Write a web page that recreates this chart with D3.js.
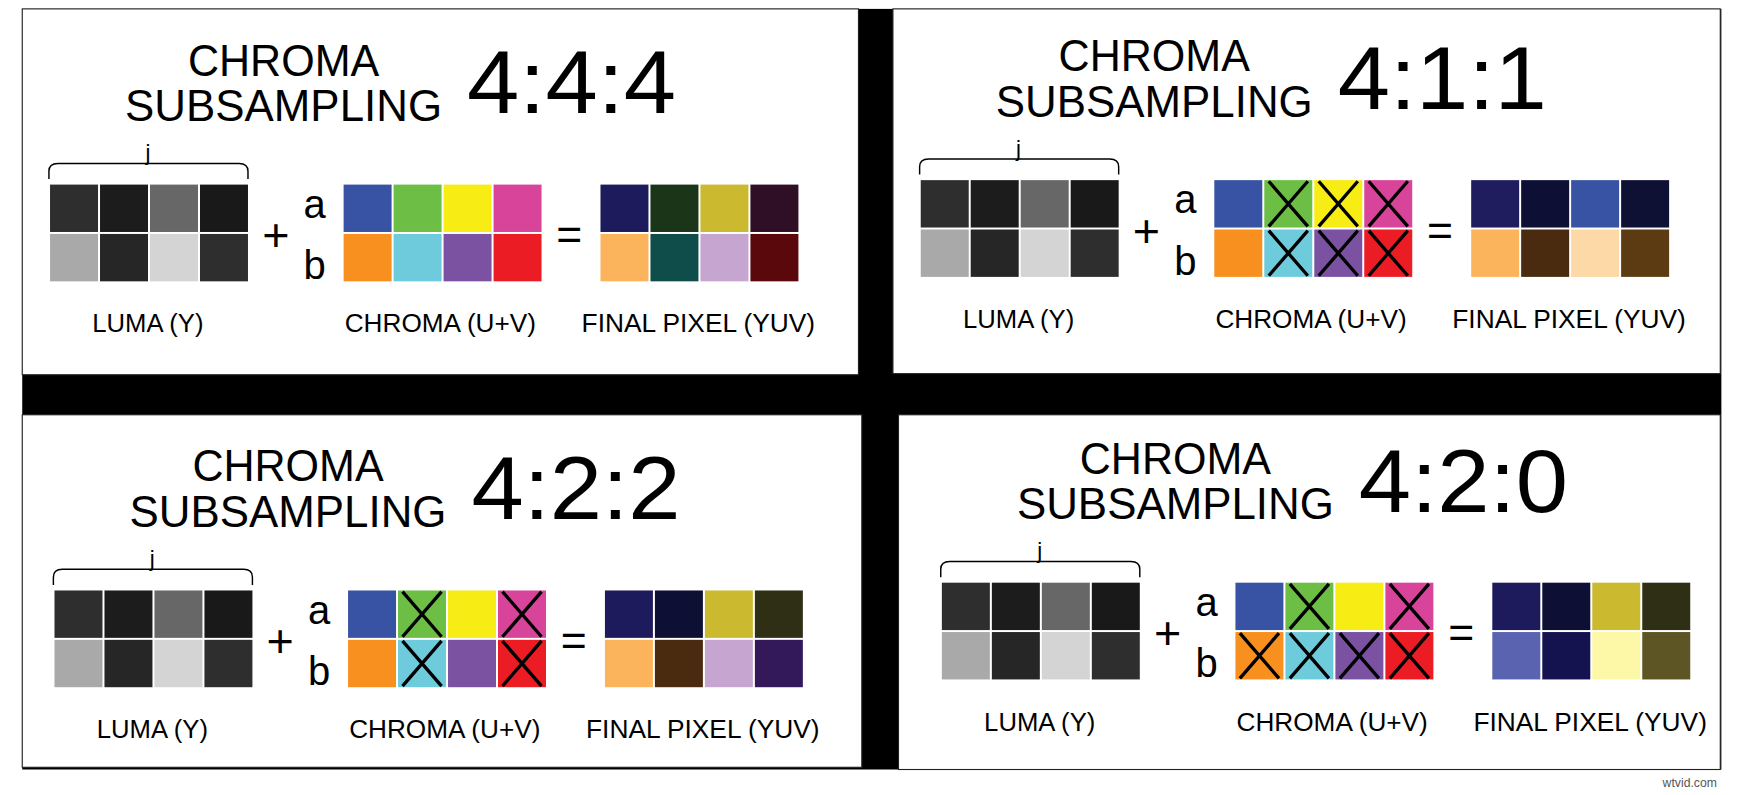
<!DOCTYPE html>
<html><head><meta charset="utf-8">
<script src="https://cdn.jsdelivr.net/npm/d3@7"></script>
<style>body{margin:0;background:#fff}svg{display:block}</style>
</head><body>
<script>
const ratios = ["4:4:4", "4:1:1", "4:2:2", "4:2:0"];
const lumaColors = [["#2e2e2e","#1c1c1c","#676767","#191919"],["#a9a9a9","#262626","#d4d4d4","#2e2e2e"]];
const chromaColors = [["#3953a4","#6cbe45","#f7ec13","#d8449a"],["#f7901e","#6dcbdb","#7a52a1","#ec1c24"]];
const finalColors = [
  [["#1e1b5c","#1b3518","#cbb92f","#2f0f26"],["#fbb45c","#0f4d4a","#c6a6d0","#5a080c"]],
  [["#201d5e","#0d0f35","#3953a4","#0e1034"],["#fbb45c","#4a2b10","#fdd9a7","#5c3a12"]],
  [["#1e1b5c","#0d0f35","#cbb92f","#2f2f16"],["#fbb45c","#4a2b10","#c6a6d0","#33195a"]],
  [["#1e1b5c","#0d0f35","#cbb92f","#2f2f16"],["#5a63b0","#15134f","#fdf7a8","#5d5524"]]
];
const crossed = [
  [],
  [[0,1],[0,2],[0,3],[1,1],[1,2],[1,3]],
  [[0,1],[0,3],[1,1],[1,3]],
  [[0,1],[0,3],[1,0],[1,1],[1,2],[1,3]]
];
const labels = ["LUMA (Y)", "CHROMA (U+V)", "FINAL PIXEL (YUV)"];
const labelWidths = [100, 172, 210];

const s = 1.112;
const panels = [
  {x:20,y:8,w:752,h:329,dx:0,dy:0},
  {x:803,y:8,w:744,h:328,dx:0,dy:-4},
  {x:20,y:373,w:755,h:317,dx:4,dy:0},
  {x:808,y:373,w:739,h:319,dx:14,dy:-7}
];

const svg = d3.select("body").append("svg").attr("width",1746).attr("height",795);
const root = svg.append("g").attr("transform",`scale(${s})`);
root.append("rect").attr("x",20).attr("y",8).attr("width",1528).attr("height",684).attr("fill","#000");

const font = "'Liberation Sans',Arial,sans-serif";
const cw = 44.5, ch = 43.5;
const xb = d3.scaleBand().domain([0,1,2,3]).range([0,cw*4]).paddingInner(0.04);
const yb = d3.scaleBand().domain([0,1]).range([0,ch*2]).paddingInner(0.04);

function grid(g, colors, x0, y0, cross){
  const gg = g.append("g").attr("transform",`translate(${x0},${y0})`);
  const cells = [];
  colors.forEach((row,r)=>row.forEach((c,i)=>cells.push({r,i,c})));
  gg.selectAll("rect").data(cells).join("rect")
    .attr("x",d=>xb(d.i)).attr("y",d=>yb(d.r))
    .attr("width",xb.bandwidth()).attr("height",yb.bandwidth()).attr("fill",d=>d.c);
  (cross||[]).forEach(([r,i])=>{
    const x=xb(i), y=yb(r), w=xb.bandwidth(), h=yb.bandwidth();
    gg.append("path").attr("d",`M${x+4},${y+1}L${x+w-4},${y+h-1}M${x+w-4},${y+1}L${x+4},${y+h-1}`)
      .attr("stroke","#000").attr("stroke-width",3).attr("fill","none");
  });
}

panels.forEach((p,k)=>{
  const g = root.append("g").attr("transform",`translate(${p.x},${p.y})`);
  g.append("rect").attr("width",p.w).attr("height",p.h).attr("fill","#fff").attr("stroke","#222").attr("stroke-width",1);
  const c = g.append("g").attr("transform",`translate(${p.dx},${p.dy})`);
  c.append("text").attr("x",235).attr("y",60).attr("text-anchor","middle").attr("font-family",font)
    .attr("font-size",40).attr("textLength",172).attr("lengthAdjust","spacingAndGlyphs").text("CHROMA");
  c.append("text").attr("x",235).attr("y",101).attr("text-anchor","middle").attr("font-family",font)
    .attr("font-size",40).attr("textLength",285).attr("lengthAdjust","spacingAndGlyphs").text("SUBSAMPLING");
  c.append("text").attr("x",400).attr("y",94).attr("font-family",font)
    .attr("font-size",80).attr("textLength",188).attr("lengthAdjust","spacingAndGlyphs").text(ratios[k]);
  c.append("text").attr("x",113).attr("y",136).attr("text-anchor","middle").attr("font-family",font).attr("font-size",20).text("j");
  c.append("path").attr("d","M24,153 L24,146 Q24,139 32,139 L195,139 Q203,139 203,146 L203,153")
    .attr("fill","none").attr("stroke","#000").attr("stroke-width",1.3);
  grid(c, lumaColors, 25, 158);
  c.append("text").attr("x",228).attr("y",218).attr("text-anchor","middle").attr("font-family",font).attr("font-size",42).text("+");
  c.append("text").attr("x",263).attr("y",188).attr("text-anchor","middle").attr("font-family",font).attr("font-size",36).text("a");
  c.append("text").attr("x",263).attr("y",243).attr("text-anchor","middle").attr("font-family",font).attr("font-size",36).text("b");
  grid(c, chromaColors, 289, 158, crossed[k]);
  c.append("text").attr("x",492).attr("y",217).attr("text-anchor","middle").attr("font-family",font).attr("font-size",40).text("=");
  grid(c, finalColors[k], 520, 158);
  [113,376,608].forEach((x,i)=>c.append("text").attr("x",x).attr("y",291).attr("text-anchor","middle")
    .attr("font-family",font).attr("font-size",23).attr("textLength",labelWidths[i]).attr("lengthAdjust","spacingAndGlyphs").text(labels[i]));
});
root.append("text").attr("x",1544).attr("y",708).attr("text-anchor","end").attr("font-family",font)
  .attr("font-size",11).attr("fill","#555").text("wtvid.com");
</script>
</body></html>
